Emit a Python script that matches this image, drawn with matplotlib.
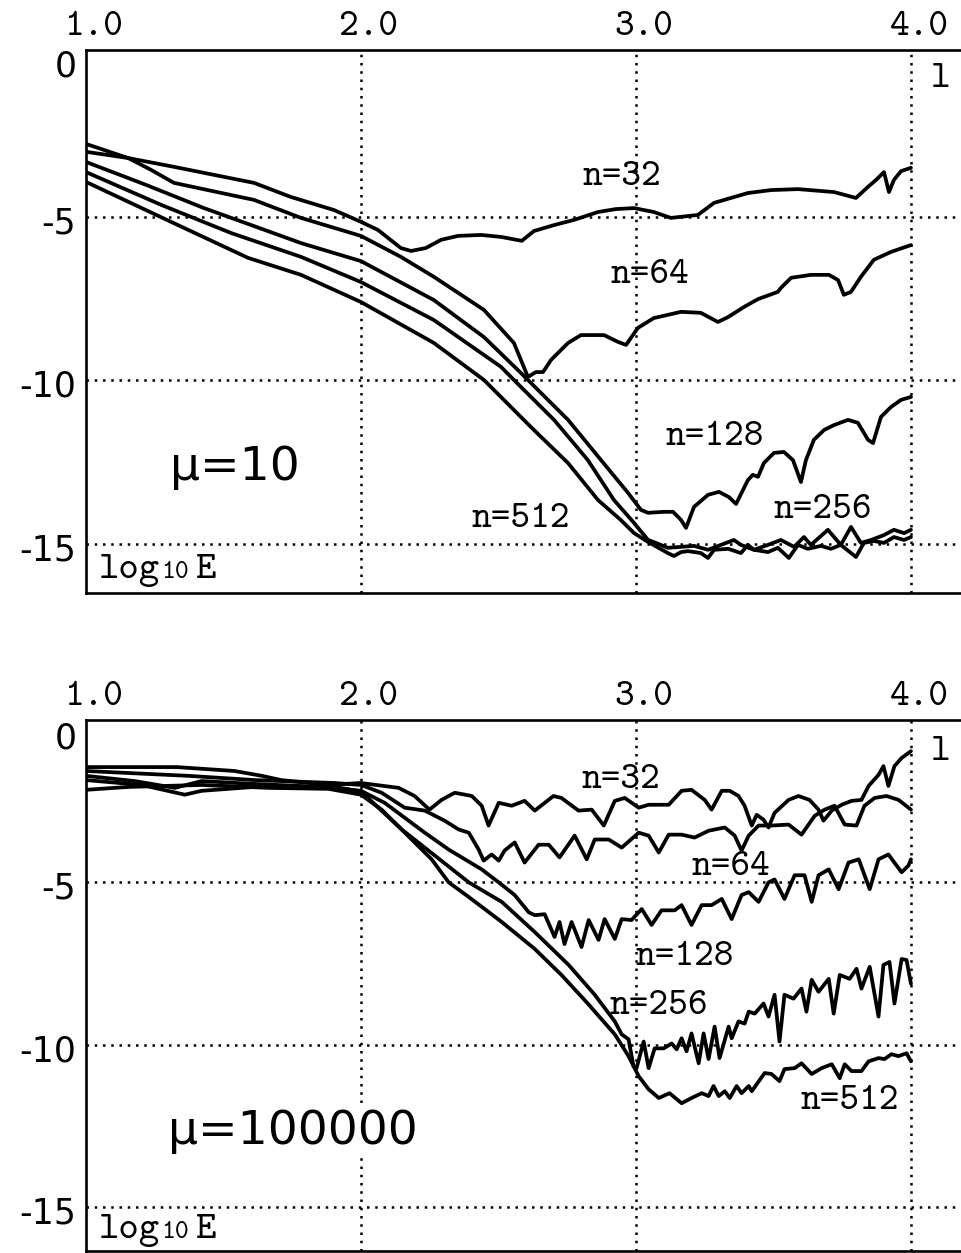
import matplotlib
matplotlib.use("Agg")
import matplotlib.pyplot as plt
from matplotlib.transforms import ScaledTranslation

# x axis is log10 l, y axis is log10 E
x_ticks = [1.0, 2.0, 3.0, 4.0]
x_tick_labels = ["1.0", "2.0", "3.0", "4.0"]
y_ticks = [0, -5, -10, -15]
y_tick_labels = ["0", "-5", "-10", "-15"]
n_labels = ["n=32", "n=64", "n=128", "n=256", "n=512"]

############################### mu = 10 (upper panel)
mu10_x32 = [1.0, 1.153, 1.32, 1.611, 1.745, 1.902, 2.0, 2.062, 2.145, 2.182, 2.236, 2.291, 2.353,
            2.436, 2.509, 2.585, 2.629, 2.702, 2.775, 2.862, 2.927, 2.993, 3.065, 3.127, 3.225,
            3.284, 3.407, 3.491, 3.589, 3.72, 3.80, 3.844, 3.873, 3.902, 3.92, 3.938, 3.964, 4.0]
mu10_y32 = [-3.02, -3.21, -3.48, -3.97, -4.40, -4.80, -5.16, -5.41, -5.96, -6.05, -5.96, -5.71,
            -5.59, -5.56, -5.62, -5.74, -5.44, -5.26, -5.10, -4.86, -4.77, -4.74, -4.86, -5.04,
            -4.95, -4.58, -4.28, -4.19, -4.16, -4.25, -4.43, -4.09, -3.88, -3.64, -4.25, -3.88,
            -3.61, -3.51]

mu10_x64 = [1.0, 1.153, 1.236, 1.32, 1.611, 1.782, 2.0, 2.145, 2.265, 2.447, 2.556, 2.589, 2.607,
            2.636, 2.662, 2.691, 2.753, 2.80, 2.884, 2.935, 2.964, 3.007, 3.065, 3.164, 3.236,
            3.298, 3.335, 3.393, 3.444, 3.516, 3.527, 3.564, 3.636, 3.702, 3.735, 3.756, 3.782,
            3.818, 3.865, 3.927, 4.0]
mu10_y64 = [-2.78, -3.21, -3.57, -3.97, -4.49, -5.04, -5.59, -6.23, -6.84, -7.85, -8.86, -9.53,
            -9.90, -9.75, -9.75, -9.38, -8.86, -8.62, -8.62, -8.83, -8.92, -8.40, -8.10, -7.91,
            -7.94, -8.22, -8.07, -7.76, -7.52, -7.30, -7.18, -6.87, -6.78, -6.78, -6.94, -7.39,
            -7.30, -6.84, -6.32, -6.08, -5.87]

mu10_x128 = [1.0, 1.218, 1.429, 1.611, 1.782, 2.0, 2.265, 2.447, 2.571, 2.607, 2.753, 2.873, 2.971,
             3.018, 3.044, 3.102, 3.135, 3.164, 3.182, 3.211, 3.262, 3.302, 3.338, 3.364, 3.407,
             3.425, 3.444, 3.465, 3.502, 3.538, 3.571, 3.60, 3.618, 3.647, 3.684, 3.72, 3.771,
             3.807, 3.844, 3.862, 3.891, 3.927, 3.964, 4.0]
mu10_y128 = [-3.33, -4.03, -4.74, -5.29, -5.81, -6.36, -7.55, -8.68, -9.69, -9.99, -11.21, -12.44,
             -13.44, -13.96, -14.05, -14.02, -14.02, -14.27, -14.51, -13.87, -13.50, -13.41,
             -13.57, -13.78, -13.05, -12.89, -12.95, -12.53, -12.22, -12.19, -12.44, -13.11,
             -12.44, -11.82, -11.52, -11.37, -11.21, -11.30, -11.82, -11.92, -11.12, -10.82,
             -10.60, -10.51]

mu10_x256 = [1.0, 1.273, 1.527, 1.782, 2.0, 2.265, 2.509, 2.556, 2.702, 2.825, 2.92, 2.993, 3.044,
             3.073, 3.116, 3.164, 3.211, 3.262, 3.309, 3.356, 3.382, 3.429, 3.48, 3.527, 3.575,
             3.611, 3.636, 3.698, 3.745, 3.782, 3.818, 3.855, 3.902, 3.938, 3.975, 4.0]
mu10_y256 = [-3.64, -4.64, -5.50, -6.23, -7.0, -8.16, -9.59, -9.99, -11.21, -12.44, -13.66, -14.36,
             -14.88, -14.97, -15.12, -15.09, -15.06, -15.18, -15.03, -14.88, -15.03, -15.18,
             -15.03, -14.88, -15.09, -14.79, -15.03, -14.57, -15.03, -14.48, -14.97, -14.88,
             -14.73, -14.57, -14.67, -14.57]

mu10_x512 = [1.0, 1.309, 1.589, 1.782, 2.0, 2.265, 2.447, 2.618, 2.753, 2.862, 2.945, 2.993, 3.044,
             3.116, 3.138, 3.164, 3.189, 3.236, 3.262, 3.284, 3.335, 3.382, 3.407, 3.429, 3.48,
             3.516, 3.556, 3.589, 3.625, 3.673, 3.709, 3.745, 3.80, 3.829, 3.865, 3.902, 3.938,
             3.975, 4.0]
mu10_y512 = [-3.94, -5.16, -6.26, -6.78, -7.61, -8.86, -9.99, -11.43, -12.53, -13.66, -14.27, -14.67,
             -14.94, -15.28, -15.37, -15.25, -15.22, -15.28, -15.43, -15.18, -15.15, -15.28,
             -15.03, -15.18, -15.25, -15.12, -15.43, -15.03, -15.15, -15.06, -15.15, -15.03,
             -15.40, -14.97, -14.91, -14.97, -14.79, -14.88, -14.79]

############################### mu = 100000 (lower panel)
mu1e5_x32 = [1.0, 1.33, 1.54, 1.64, 1.71, 1.88, 2.0, 2.137, 2.195, 2.249, 2.293, 2.341, 2.403, 2.439,
             2.464, 2.501, 2.548, 2.595, 2.632, 2.70, 2.729, 2.791, 2.839, 2.883, 2.923, 2.959, 3.01,
             3.046, 3.119, 3.166, 3.202, 3.25, 3.275, 3.312, 3.341, 3.373, 3.395, 3.421, 3.439,
             3.464, 3.482, 3.504, 3.555, 3.591, 3.631, 3.664, 3.682, 3.712, 3.748, 3.784, 3.82,
             3.846, 3.882, 3.90, 3.918, 3.94, 3.966, 4.0]
mu1e5_y32 = [-1.45, -1.45, -1.57, -1.72, -1.85, -2.0, -1.94, -2.09, -2.34, -2.76, -2.46, -2.24,
             -2.34, -2.64, -3.25, -2.55, -2.64, -2.49, -2.79, -2.34, -2.40, -2.79, -2.76, -3.25,
             -2.49, -2.40, -2.70, -2.61, -2.61, -2.18, -2.15, -2.46, -2.76, -2.18, -2.18, -2.34,
             -2.64, -3.25, -2.92, -3.07, -3.31, -2.86, -2.46, -2.34, -2.46, -2.76, -3.10, -2.79,
             -2.61, -2.49, -2.46, -2.03, -1.69, -1.42, -2.03, -1.42, -1.17, -0.96]

mu1e5_x64 = [1.0, 1.373, 1.614, 1.904, 2.0, 2.075, 2.159, 2.232, 2.304, 2.355, 2.392, 2.428, 2.446,
             2.475, 2.501, 2.522, 2.559, 2.595, 2.646, 2.683, 2.722, 2.777, 2.821, 2.85, 2.901,
             2.948, 3.01, 3.046, 3.083, 3.119, 3.166, 3.213, 3.264, 3.323, 3.359, 3.384, 3.41,
             3.446, 3.493, 3.555, 3.602, 3.65, 3.686, 3.722, 3.759, 3.802, 3.831, 3.868, 3.911,
             3.955, 4.0]
mu1e5_y64 = [-1.57, -1.72, -1.85, -1.94, -2.0, -2.24, -2.70, -2.79, -3.10, -3.37, -3.47, -3.99,
             -4.33, -4.14, -4.33, -4.02, -3.77, -4.39, -3.84, -3.84, -4.23, -3.56, -4.29, -3.68,
             -3.68, -3.93, -3.47, -3.56, -4.08, -3.53, -3.53, -3.62, -3.41, -3.31, -3.56, -4.02,
             -3.56, -3.25, -3.25, -3.22, -3.53, -2.95, -2.76, -2.64, -3.22, -3.25, -2.64, -2.40,
             -2.34, -2.46, -2.76]

mu1e5_x128 = [1.0, 1.177, 1.323, 1.421, 1.614, 1.857, 2.0, 2.086, 2.232, 2.319, 2.439, 2.501, 2.559,
              2.61, 2.632, 2.668, 2.704, 2.722, 2.74, 2.766, 2.802, 2.828, 2.864, 2.886, 2.923,
              2.948, 2.984, 3.01, 3.021, 3.057, 3.093, 3.141, 3.166, 3.202, 3.239, 3.275, 3.312,
              3.348, 3.384, 3.41, 3.446, 3.482, 3.504, 3.54, 3.577, 3.613, 3.639, 3.664, 3.701,
              3.737, 3.773, 3.81, 3.85, 3.882, 3.918, 3.966, 3.991, 4.0]
mu1e5_y128 = [-1.72, -1.88, -2.09, -1.88, -1.97, -2.06, -2.18, -2.55, -3.47, -3.99, -4.60, -5.0,
              -5.39, -5.92, -6.01, -5.98, -6.68, -6.22, -6.90, -6.22, -6.99, -6.16, -6.77, -6.13,
              -6.74, -6.13, -6.16, -5.92, -5.82, -6.31, -5.86, -5.86, -5.70, -6.31, -5.70, -5.70,
              -5.51, -6.13, -5.39, -5.30, -5.60, -5.0, -4.91, -5.51, -4.78, -4.78, -5.60, -4.78,
              -4.60, -5.21, -4.39, -4.29, -5.21, -4.29, -4.14, -4.69, -4.48, -4.29]

mu1e5_x256 = [1.0, 1.203, 1.359, 1.421, 1.614, 1.904, 2.0, 2.148, 2.268, 2.392, 2.512, 2.632, 2.755,
              2.85, 2.923, 2.948, 2.973, 2.991, 3.002, 3.028, 3.046, 3.068, 3.101, 3.13, 3.148,
              3.166, 3.184, 3.202, 3.228, 3.246, 3.264, 3.286, 3.304, 3.337, 3.348, 3.373, 3.395,
              3.41, 3.432, 3.464, 3.482, 3.504, 3.522, 3.54, 3.573, 3.602, 3.62, 3.639, 3.664,
              3.701, 3.719, 3.741, 3.777, 3.802, 3.82, 3.85, 3.882, 3.90, 3.922, 3.94, 3.966,
              3.984, 4.0]
mu1e5_y256 = [-1.85, -2.0, -2.30, -2.18, -2.06, -2.06, -2.2, -3.37, -4.17, -5.0, -5.60, -6.53,
              -7.54, -8.46, -9.28, -9.68, -9.83, -10.66, -10.72, -9.90, -10.72, -10.11, -10.11,
              -9.96, -10.14, -9.80, -10.20, -9.65, -10.57, -9.65, -10.44, -9.44, -10.41, -9.44,
              -9.80, -9.28, -9.35, -8.98, -9.04, -8.73, -9.13, -8.46, -9.90, -8.46, -8.58, -8.27,
              -8.98, -8.0, -8.37, -7.97, -9.04, -7.85, -7.97, -7.66, -8.27, -7.60, -9.13, -7.54,
              -7.45, -8.73, -7.36, -7.39, -8.12]

mu1e5_x512 = [1.0, 1.155, 1.421, 1.664, 1.882, 2.0, 2.075, 2.257, 2.319, 2.392, 2.512, 2.632, 2.729,
              2.828, 2.923, 2.973, 3.01, 3.046, 3.083, 3.122, 3.166, 3.202, 3.239, 3.264, 3.282,
              3.301, 3.323, 3.341, 3.366, 3.384, 3.41, 3.421, 3.468, 3.493, 3.522, 3.54, 3.577,
              3.602, 3.639, 3.675, 3.712, 3.741, 3.759, 3.784, 3.82, 3.846, 3.882, 3.904, 3.929,
              3.955, 3.984, 4.0]
mu1e5_y512 = [-2.15, -2.06, -2.0, -2.09, -2.12, -2.3, -2.76, -4.29, -5.0, -5.45, -6.22, -7.05,
              -7.85, -8.76, -9.68, -10.35, -10.97, -11.37, -11.64, -11.49, -11.80, -11.64, -11.49,
              -11.58, -11.27, -11.58, -11.43, -11.64, -11.27, -11.49, -11.27, -11.43, -10.87,
              -10.90, -11.12, -10.75, -10.72, -10.57, -10.90, -10.72, -10.60, -11.03, -10.60,
              -10.81, -10.81, -10.51, -10.41, -10.44, -10.29, -10.35, -10.26, -10.51]

MONO = "cmtt10"
SANS = "DejaVu Sans"


def style_axes(fig, ax, ylim, zero_drop):
    """Frame, dotted grid and tick labels in the old plotting style."""
    ax.set_xlim(1.0, 4.182)
    ax.set_ylim(*ylim)
    for side in ("left", "top", "bottom"):
        ax.spines[side].set_linewidth(1.9)
    ax.spines["right"].set_visible(False)

    ax.xaxis.tick_top()
    ax.set_xticks(x_ticks)
    ax.set_xticklabels(x_tick_labels, fontfamily=MONO, fontsize=27)
    ax.set_yticks(y_ticks)
    ax.set_yticklabels(y_tick_labels, fontfamily=SANS, fontsize=25)
    ax.tick_params(axis="x", length=0, pad=4)
    ax.tick_params(axis="y", length=0, pad=7)

    # labels sit a little right / below their ticks in the original
    for lab in ax.get_xticklabels():
        lab.set_transform(lab.get_transform() + ScaledTranslation(0.08, 0, fig.dpi_scale_trans))
    for i, lab in enumerate(ax.get_yticklabels()):
        dy = zero_drop if i == 0 else 3
        lab.set_transform(lab.get_transform() + ScaledTranslation(0, -dy / 100, fig.dpi_scale_trans))

    dots = (0, (1, 2.3))
    for gx in x_ticks[1:]:
        ax.axvline(gx, color="black", lw=1.8, ls=dots, zorder=1)
    for gy in y_ticks[1:]:
        ax.axhline(gy, color="black", lw=1.8, ls=dots, zorder=1)


def draw_curves(ax, xs, ys):
    for x, y in zip(xs, ys):
        ax.plot(x, y, color="black", lw=2.7, solid_joinstyle="round",
                solid_capstyle="round", zorder=3)


def corner_labels(ax, l_y, log_y):
    ax.text(4.109, l_y, "l", fontfamily=MONO, fontsize=27, ha="center", va="baseline")
    ax.text(1.047, log_y, "log", fontfamily=MONO, fontsize=28, va="baseline")
    ax.text(1.275, log_y, "10", fontfamily=MONO, fontsize=19, va="baseline")
    ax.text(1.395, log_y, "E", fontfamily=MONO, fontsize=28, va="baseline")


fig = plt.figure(figsize=(9.61, 12.53), dpi=100)

# upper panel
ax1 = fig.add_axes([86 / 961, 660 / 1253, 1 - 86 / 961, 543 / 1253])
style_axes(fig, ax1, (-16.5, 0.09), 10)
draw_curves(ax1, [mu10_x32, mu10_x64, mu10_x128, mu10_x256, mu10_x512],
            [mu10_y32, mu10_y64, mu10_y128, mu10_y256, mu10_y512])
for lab, (tx, ty) in zip(n_labels, [(2.807, -4.03), (2.909, -7.03), (3.109, -11.98),
                                    (3.502, -14.21), (2.404, -14.48)]):
    ax1.text(tx, ty, lab, fontfamily=MONO, fontsize=27, va="baseline", zorder=4)
ax1.text(1.305, -13.05, "\u03bc=10", fontfamily=SANS, fontsize=34, va="baseline")
corner_labels(ax1, -1.04, -16.04)

# lower panel
ax2 = fig.add_axes([86 / 961, 2 / 1253, 1 - 86 / 961, 531 / 1253])
style_axes(fig, ax2, (-16.35, -0.10), 15)
draw_curves(ax2, [mu1e5_x32, mu1e5_x64, mu1e5_x128, mu1e5_x256, mu1e5_x512],
            [mu1e5_y32, mu1e5_y64, mu1e5_y128, mu1e5_y256, mu1e5_y512])
for lab, (tx, ty) in zip(n_labels, [(2.803, -2.09), (3.204, -4.78), (3.0, -7.54),
                                    (2.904, -9.04), (3.6, -11.98)]):
    ax2.text(tx, ty, lab, fontfamily=MONO, fontsize=27, va="baseline", zorder=4)
ax2.text(1.298, -13.05, "\u03bc=100000", fontfamily=SANS, fontsize=34, va="baseline",
         bbox=dict(facecolor="white", edgecolor="none", pad=3), zorder=2)
corner_labels(ax2, -1.23, -15.96)

fig.savefig("out.png", dpi=100, facecolor="white")
